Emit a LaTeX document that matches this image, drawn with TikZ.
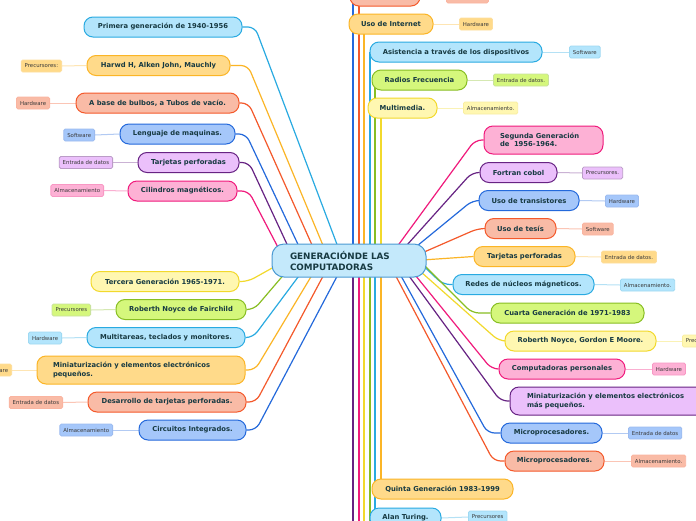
\documentclass[tikz,border=0pt]{standalone}
\usepackage{fontspec}
\setmainfont{DejaVu Sans}
\pgfdeclarelayer{back}
\pgfsetlayers{back,main}
\definecolor{LBf}{HTML}{B3E5FC}\definecolor{LBd}{HTML}{29AAE1}
\definecolor{YOf}{HTML}{FFDA8A}\definecolor{YOd}{HTML}{FBB526}
\definecolor{SAf}{HTML}{F9BBA6}\definecolor{SAd}{HTML}{F4592B}
\definecolor{BLf}{HTML}{A5C7FA}\definecolor{BLd}{HTML}{2469DB}
\definecolor{PUf}{HTML}{EBC0FB}\definecolor{PUd}{HTML}{672383}
\definecolor{PKf}{HTML}{FDB1D5}\definecolor{PKd}{HTML}{F01A7C}
\definecolor{LYf}{HTML}{FFF7B1}\definecolor{LYd}{HTML}{F2D92C}
\definecolor{GRf}{HTML}{D5F77C}\definecolor{GRd}{HTML}{88BE23}
\definecolor{CTf}{HTML}{C4E9FB}\definecolor{CTd}{HTML}{4B9AD3}
\definecolor{txt}{HTML}{173A42}
\definecolor{labtxt}{HTML}{3A3A3A}
\begin{document}
\begin{tikzpicture}[x=1pt,y=-1pt,
  nd/.style={rounded corners=9pt, line width=1pt, font=\fontsize{6.8}{8.5}\selectfont\bfseries, text=txt, inner sep=0pt, minimum height=20pt, align=center},
  twol/.style={align=left, minimum height=28pt, inner xsep=16pt},
  lab/.style={rounded corners=1.5pt, line width=0.8pt, font=\fontsize{5.4}{6}\selectfont, text=labtxt, inner xsep=3.5pt, inner ysep=0pt, minimum height=12pt},
  lb/.style={fill=LBf, draw=LBd}, yo/.style={fill=YOf, draw=YOd},
  sa/.style={fill=SAf, draw=SAd}, bl/.style={fill=BLf, draw=BLd},
  pu/.style={fill=PUf, draw=PUd}, pk/.style={fill=PKf, draw=PKd},
  ly/.style={fill=LYf, draw=LYd}, gr/.style={fill=GRf, draw=GRd},
  llb/.style={lab, fill=LBf, draw=LBd!45!white}, lyo/.style={lab, fill=YOf, draw=YOd!45!white},
  lsa/.style={lab, fill=SAf, draw=SAd!45!white}, lbl/.style={lab, fill=BLf, draw=BLd!45!white},
  lpu/.style={lab, fill=PUf, draw=PUd!45!white}, lpk/.style={lab, fill=PKf, draw=PKd!45!white},
  lly/.style={lab, fill=LYf, draw=LYd!45!white}, lgr/.style={lab, fill=GRf, draw=GRd!45!white},
  con/.style={line width=1.2pt, rounded corners=7pt},
  lcon/.style={line width=1pt}
]
\useasboundingbox (0,0) rectangle (696,520);

% central node
\node[rounded corners=12pt, line width=1pt, fill=CTf, draw=CTd, font=\fontsize{8.8}{11}\selectfont\bfseries, text=txt, align=left, text width=118pt, inner xsep=18pt, inner ysep=0pt, minimum height=33pt] (ctr) at (349,260.5) {GENERACIÓNDE LAS\\COMPUTADORAS};

% left top
\node[nd, lb, minimum width=158pt] (n1) at (163,27) {Primera generación de 1940-1956};
\node[nd, yo, minimum width=143pt] (n2) at (158.5,65.5) {Harwd H, Alken John, Mauchly};
\node[lyo, anchor=east] (l2) at (62,66) {Precursores:};
\node[nd, sa, minimum width=163pt] (n3) at (157.5,103) {A base de bulbos, a Tubos de vacío.};
\node[lsa, anchor=east] (l3) at (50,103) {Hardware};
\node[nd, bl, minimum width=115pt] (n4) at (177.5,134) {Lenguaje de maquinas.};
\node[lbl, anchor=east] (l4) at (95,135) {Software};
\node[nd, pu, minimum width=101pt] (n5) at (188.5,162.5) {Tarjetas perforadas};
\node[lpu, anchor=east] (l5) at (113,162.5) {Entrada de datos};
\node[nd, pk, minimum width=109pt] (n6) at (182.5,191) {Cilindros magnéticos.};
\node[lpk, anchor=east] (l6) at (104,190.5) {Almacenamiento};

% left bottom
\node[nd, ly, minimum width=148pt] (n7) at (165,281.5) {Tercera Generación 1965-1971.};
\node[nd, gr, minimum width=130pt] (n8) at (181,309.5) {Roberth Noyce de Fairchild};
\node[lgr, anchor=east] (l8) at (91,310) {Precursores};
\node[nd, lb, minimum width=158pt] (n9) at (166,337.5) {Multitareas, teclados y monitores.};
\node[llb, anchor=east] (l9) at (62,338) {Hardware};
\node[nd, yo, twol, text width=176pt] (n10) at (141,370) {Miniaturización y elementos electrónicos\\pequeños.};
\node[lyo, anchor=east] (l10) at (12,370) {Software};
\node[nd, sa, minimum width=158pt] (n11) at (167,402) {Desarrollo de tarjetas perforadas.};
\node[lsa, anchor=east] (l11) at (63,402.5) {Entrada de datos};
\node[nd, bl, minimum width=107pt] (n12) at (192.5,430) {Circuitos Integrados.};
\node[lbl, anchor=east] (l12) at (113,430) {Almacenamiento};

% right top
\node[nd, pk, twol, text width=87pt] (r1) at (543.5,140) {Segunda Generación\\de\ \ 1956-1964.};
\node[nd, pu, minimum width=77pt] (r2) at (518.5,172.5) {Fortran cobol};
\node[lpu, anchor=west] (q2) at (582,173) {Precursores.};
\node[nd, bl, minimum width=100pt] (r3) at (529,200.5) {Uso de transistores};
\node[lbl, anchor=west] (q3) at (605,201) {Hardware};
\node[nd, sa, minimum width=71pt] (r4) at (520.5,228.5) {Uso de tesís};
\node[lsa, anchor=west] (q4) at (582,229) {Software};
\node[nd, yo, minimum width=101pt] (r5) at (524.5,256.5) {Tarjetas perforadas};
\node[lyo, anchor=west] (q5) at (601,257) {Entrada de datos.};
\node[nd, lb, minimum width=141pt] (r6) at (523.5,284.5) {Redes de núcleos mágneticos.};
\node[llb, anchor=west] (q6) at (620,285) {Almacenamiento.};
\node[nd, gr, minimum width=153pt] (r7) at (567.5,313) {Cuarta Generación de 1971-1983};

% right bottom
\node[nd, ly, minimum width=151pt] (r8) at (580.5,341) {Roberth Noyce, Gordon E Moore.};
\node[lly, anchor=west] (q8) at (682,341) {Precursores};
\node[nd, pk, minimum width=126pt] (r9) at (562,369) {Computadoras personales};
\node[lpk, anchor=west] (q9) at (652,369) {Hardware};
\node[nd, pu, twol, text width=170pt, inner xsep=17pt] (r10) at (612,401) {Miniaturización y elementos electrónicos\\más pequeños.};
\node[nd, bl, minimum width=101pt] (r11) at (551.5,433) {Microprocesadores.};
\node[lbl, anchor=west] (q11) at (628,433) {Entrada de datos};
\node[nd, sa, minimum width=99pt] (r12) at (554.5,461) {Microprocesadores.};
\node[lsa, anchor=west] (q12) at (631,461) {Almacenamiento.};

% top
\node[nd, sa, minimum width=70pt] (t0) at (385,-4) {};
\node[lsa, anchor=west, minimum width=42pt] (p0) at (446,-3) {};
\node[nd, yo, minimum width=84pt] (t1) at (391,24) {Uso de Internet};
\node[lyo, anchor=west] (p1) at (459,24) {Hardware};
\node[nd, lb, minimum width=172pt] (t2) at (456,52) {Asistencia a través de los dispositivos};
\node[llb, anchor=west] (p2) at (569,52) {Software};
\node[nd, gr, minimum width=95pt] (t3) at (419.5,80) {Radios Frecuencia};
\node[lgr, anchor=west] (p3) at (493,80) {Entrada de datos.};
\node[nd, ly, minimum width=69pt] (t4) at (402.5,108) {Multimedia.};
\node[lly, anchor=west] (p4) at (463,108) {Almacenamiento.};

% bottom
\node[nd, yo, minimum width=141pt] (b1) at (442.5,489) {Quinta Generación 1983-1999};
\node[nd, lb, minimum width=71pt] (b2) at (405.5,518) {Alan Turing.};
\node[llb, anchor=west] (s2) at (468,517) {Precursores};

\begin{pgfonlayer}{back}
\fill[white] (0,0) rectangle (696,520);
% named ends inside the central node
\coordinate (e1) at (341,255); \coordinate (e2) at (327,255); \coordinate (e3) at (316.5,255);
\coordinate (e4) at (303,255); \coordinate (e5) at (292,255); \coordinate (e6) at (282,255);
\coordinate (e7) at (282,262.5); \coordinate (e8) at (292,265); \coordinate (e9) at (307,265);
\coordinate (e10) at (318,265); \coordinate (e11) at (329,265); \coordinate (e12) at (343,265);
\coordinate (f1) at (391,255); \coordinate (f2) at (398,255); \coordinate (f3) at (406,255);
\coordinate (f4) at (415,256); \coordinate (f5) at (415,260.5); \coordinate (f6) at (415,258);
\coordinate (f7) at (415,256); \coordinate (f8) at (412,264); \coordinate (f9) at (407,265);
\coordinate (f10) at (401,265); \coordinate (f11) at (395,265); \coordinate (f12) at (390,265);
\coordinate (topend) at (353,-20);
\coordinate (bot1) at (353,530); \coordinate (bot2) at (359,530);
\coordinate (bot3) at (364,530); \coordinate (bot4) at (370,530);

% left connectors
\draw[con, LBd] (n1.east) -- (255,27) -- (e1);
\draw[con, YOd] (n2.east) -- (248,65.5) -- (e2);
\draw[con, SAd] (n3.east) -- (248.5,103) -- (e3);
\draw[con, BLd] (n4.east) -- (246,134) -- (e4);
\draw[con, PUd] (n5.east) -- (249,162.5) -- (e5);
\draw[con, PKd] (n6.east) -- (248.6,191) -- (e6);
\draw[con, LYd] (n7.east) -- (248,281.5) -- (e7);
\draw[con, GRd] (n8.east) -- (254,309.5) -- (e8);
\draw[con, LBd] (n9.east) -- (253,337.5) -- (e9);
\draw[con, YOd] (n10.east) -- (255,370) -- (e10);
\draw[con, SAd] (n11.east) -- (256,402) -- (e11);
\draw[con, BLd] (n12.east) -- (256,430) -- (e12);
% right connectors
\draw[con, PKd] (f1) -- (475,140) -- (r1.west);
\draw[con, PUd] (f2) -- (472,172.5) -- (r2.west);
\draw[con, BLd] (f3) -- (472.5,200.5) -- (r3.west);
\draw[con, SAd] (f4) -- (478,228.5) -- (r4.west);
\draw[con, YOd] (f5) -- (r5.west);
\draw[con, LBd] (f6) -- (443,284.5) -- (r6.west);
\draw[con, GRd] (f7) -- (472,313) -- (r7.west);
\draw[con, LYd] (f8) -- (499,341) -- (r8.west);
\draw[con, PKd] (f9) -- (491.5,369) -- (r9.west);
\draw[con, PUd] (f10) -- (500.5,401) -- (r10.west);
\draw[con, BLd] (f11) -- (487.5,433) -- (r11.west);
\draw[con, SAd] (f12) -- (493.5,461) -- (r12.west);
% vertical connectors (top)
\draw[con, BLd] (353,255) -- (topend);
\draw[con, SAd] (359,255) -- (t0.south -| 359,0) -- (359,-4);
\draw[con, YOd] (364,255) -- (364,24);
\draw[con, LBd] (370,255) -- (370,52);
\draw[con, GRd] (375,255) -- (375,80);
\draw[con, LYd] (381,255) -- (381,108);
% vertical connectors (bottom)
\draw[con, PUd] (353,265) -- (bot1);
\draw[con, PKd] (359,265) -- (bot2);
\draw[con, LYd] (364,265) -- (bot3);
\draw[con, GRd] (370,265) -- (bot4);
\draw[con, LBd] (375,265) -- (375,518);
\draw[con, YOd] (381,265) -- (381,489);
% label connectors
\draw[lcon, YOd!35!white] (n2.west) -- (l2.east);
\draw[lcon, SAd!35!white] (n3.west) -- (l3.east);
\draw[lcon, BLd!35!white] (n4.west) -- (l4.east);
\draw[lcon, PUd!35!white] (n5.west) -- (l5.east);
\draw[lcon, PKd!35!white] (n6.west) -- (l6.east);
\draw[lcon, GRd!35!white] (n8.west) -- (l8.east);
\draw[lcon, LBd!35!white] (n9.west) -- (l9.east);
\draw[lcon, YOd!35!white] (n10.west) -- (l10.east);
\draw[lcon, SAd!35!white] (n11.west) -- (l11.east);
\draw[lcon, BLd!35!white] (n12.west) -- (l12.east);
\draw[lcon, PUd!35!white] (r2.east) -- (q2.west);
\draw[lcon, BLd!35!white] (r3.east) -- (q3.west);
\draw[lcon, SAd!35!white] (r4.east) -- (q4.west);
\draw[lcon, YOd!35!white] (r5.east) -- (q5.west);
\draw[lcon, LBd!35!white] (r6.east) -- (q6.west);
\draw[lcon, LYd!35!white] (r8.east) -- (q8.west);
\draw[lcon, PKd!35!white] (r9.east) -- (q9.west);
\draw[lcon, BLd!35!white] (r11.east) -- (q11.west);
\draw[lcon, SAd!35!white] (r12.east) -- (q12.west);
\draw[lcon, SAd!35!white] (t0.east) -- (p0.west);
\draw[lcon, YOd!35!white] (t1.east) -- (p1.west);
\draw[lcon, LBd!35!white] (t2.east) -- (p2.west);
\draw[lcon, GRd!35!white] (t3.east) -- (p3.west);
\draw[lcon, LYd!35!white] (t4.east) -- (p4.west);
\draw[lcon, LBd!35!white] (b2.east) -- (s2.west);
\end{pgfonlayer}
\end{tikzpicture}
\end{document}
